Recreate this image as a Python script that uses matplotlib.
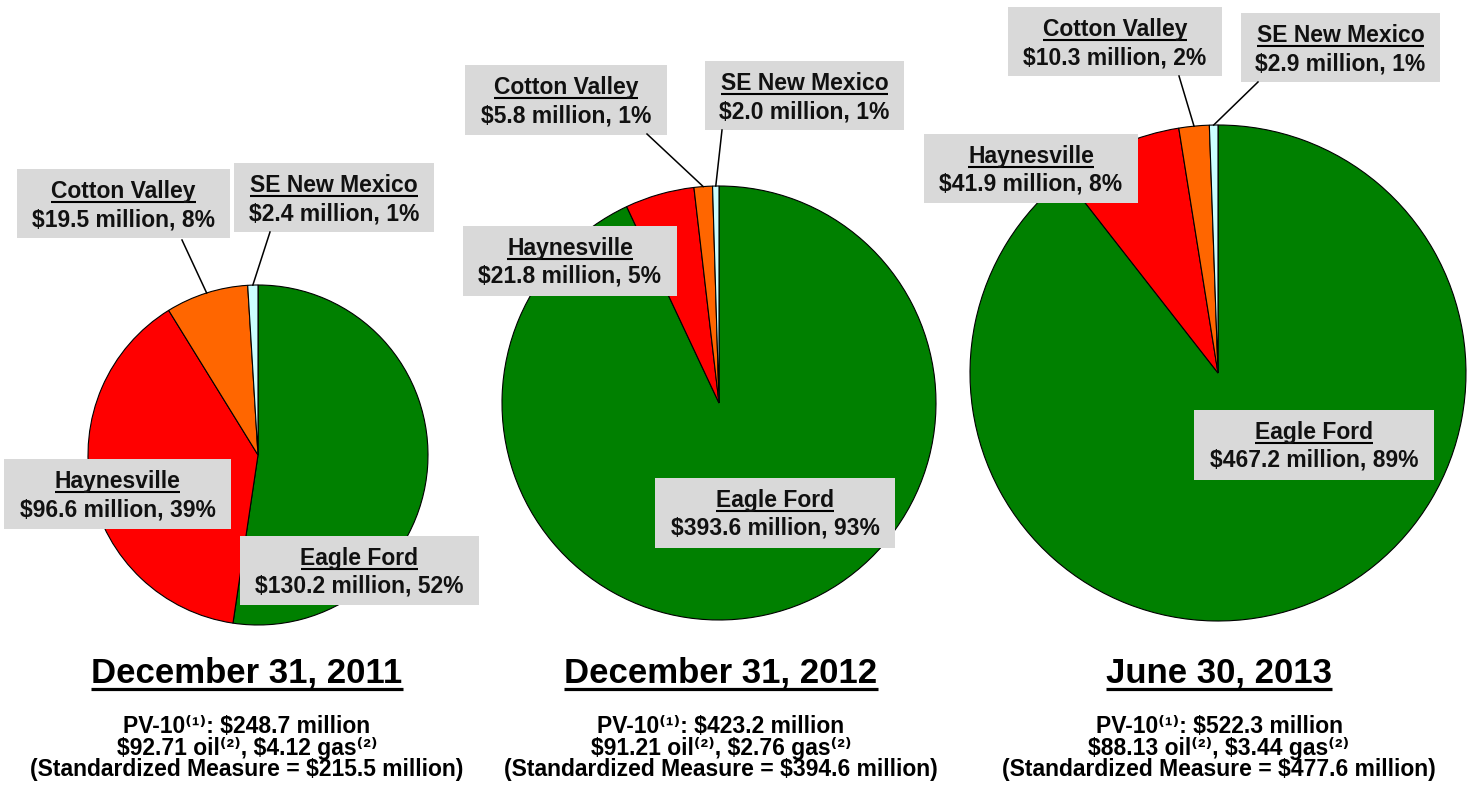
import numpy as np
import matplotlib
matplotlib.use('Agg')
import matplotlib.pyplot as plt
from matplotlib.patches import Rectangle
from matplotlib.lines import Line2D

plt.rcParams['font.family'] = ['Liberation Sans', 'DejaVu Sans']
plt.rcParams['font.weight'] = 'bold'

# Reserve data ($ million) by area
regions = ['Eagle Ford', 'Haynesville', 'Cotton Valley', 'SE New Mexico']
colors = ['#008000', '#FF0000', '#FF6600', '#CCFFFF']

dates = ['December 31, 2011', 'December 31, 2012', 'June 30, 2013']
values_2011 = [130.2, 96.6, 19.5, 2.4]
values_2012 = [393.6, 21.8, 5.8, 2.0]
values_2013 = [467.2, 41.9, 10.3, 2.9]
pcts_2011 = [52, 39, 8, 1]
pcts_2012 = [93, 5, 1, 1]
pcts_2013 = [89, 8, 2, 1]
pv10 = [248.7, 423.2, 522.3]
oil_price = [92.71, 91.21, 88.13]
gas_price = [4.12, 2.76, 3.44]
std_measure = [215.5, 394.6, 477.6]

all_values = [values_2011, values_2012, values_2013]
all_pcts = [pcts_2011, pcts_2012, pcts_2013]

# layout in pixels (x, y from top-left)
W, H = 1476, 785
pie_geom = [(258, 455, 170), (719, 403, 217), (1218, 373, 248)]
boxes = [
    {'Eagle Ford': (240, 536, 479, 605), 'Haynesville': (4, 459, 231, 529),
     'Cotton Valley': (17, 169, 230, 238), 'SE New Mexico': (234, 163, 434, 232)},
    {'Eagle Ford': (655, 478, 895, 548), 'Haynesville': (463, 226, 677, 296),
     'Cotton Valley': (465, 65, 667, 135), 'SE New Mexico': (705, 61, 904, 130)},
    {'Eagle Ford': (1194, 410, 1434, 480), 'Haynesville': (924, 134, 1138, 203),
     'Cotton Valley': (1008, 7, 1222, 76), 'SE New Mexico': (1241, 13, 1440, 82)},
]
leader_start = [
    {'Cotton Valley': (182, 240), 'SE New Mexico': (270, 232)},
    {'Cotton Valley': (647, 134), 'SE New Mexico': (722, 130)},
    {'Cotton Valley': (1179, 76), 'SE New Mexico': (1258, 82)},
]
title_x = [247, 721, 1219]

SUP1 = '\u207d\u00b9\u207e'
SUP2 = '\u207d\u00b2\u207e'


def fx(x):
    return x / W


def fy(y):
    return 1 - y / H


fig = plt.figure(figsize=(W / 100, H / 100), dpi=100)
renderer = fig.canvas.get_renderer()


def underline(txt, y_px, lw):
    bb = txt.get_window_extent(renderer=renderer)
    fig.add_artist(Line2D([bb.x0 / W, bb.x1 / W], [fy(y_px)] * 2, color='black',
                          lw=lw, transform=fig.transFigure, solid_capstyle='butt'))


for i in range(3):
    cx, cy, r = pie_geom[i]
    ax = fig.add_axes([fx(cx - r), fy(cy + r), 2 * r / W, 2 * r / H])
    wedges, _ = ax.pie(all_values[i], colors=colors, startangle=90, counterclock=False,
                       wedgeprops=dict(edgecolor='black', linewidth=0.8, clip_on=False))
    ax.set_xlim(-1, 1)
    ax.set_ylim(-1, 1)
    ax.set_axis_off()

    for j, name in enumerate(regions):
        x0, y0, x1, y1 = boxes[i][name]
        fig.add_artist(Rectangle((fx(x0), fy(y1)), (x1 - x0) / W, (y1 - y0) / H,
                                 transform=fig.transFigure, facecolor='#D9D9D9',
                                 edgecolor='none', zorder=2))
        xc = (x0 + x1) / 2
        t = fig.text(fx(xc), fy(y0 + 29), name, ha='center', va='baseline',
                     fontsize=16.5, color='#111111', zorder=3)
        underline(t, y0 + 33, 1.5)
        fig.text(fx(xc), fy(y0 + 57), f'${all_values[i][j]:.1f} million, {all_pcts[i][j]}%',
                 ha='center', va='baseline', fontsize=16.5, color='#111111', zorder=3)

        if name in leader_start[i]:
            w = wedges[j]
            ang = np.deg2rad((w.theta1 + w.theta2) / 2)
            end = ax.transData.transform((np.cos(ang), np.sin(ang)))
            sx, sy = leader_start[i][name]
            fig.add_artist(Line2D([fx(sx), end[0] / W], [fy(sy), end[1] / H],
                                  color='black', lw=1.1, transform=fig.transFigure))

    # date heading and summary lines
    tx = title_x[i]
    t = fig.text(fx(tx), fy(682), dates[i], ha='center', va='baseline', fontsize=25)
    underline(t, 689, 2.3)
    fig.text(fx(tx), fy(733), f'PV-10{SUP1}: ${pv10[i]:.1f} million',
             ha='center', va='baseline', fontsize=16.5)
    fig.text(fx(tx), fy(755), f'\\${oil_price[i]:.2f} oil{SUP2}, \\${gas_price[i]:.2f} gas{SUP2}',
             ha='center', va='baseline', fontsize=16.5)
    fig.text(fx(tx), fy(776), f'(Standardized Measure = ${std_measure[i]:.1f} million)',
             ha='center', va='baseline', fontsize=16.5)

fig.savefig('out.png', dpi=100, facecolor='white')
